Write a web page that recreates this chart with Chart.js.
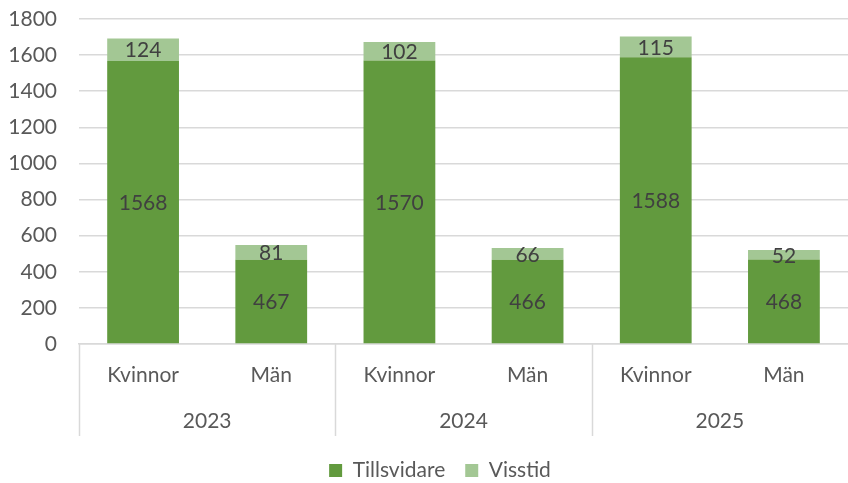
<!DOCTYPE html>
<html>
<head>
<meta charset="utf-8">
<script src="https://cdn.jsdelivr.net/npm/chart.js@4"></script>
<style>
  html, body { margin: 0; padding: 0; background: #fff; }
  #wrap { width: 848px; height: 483px; }
</style>
</head>
<body>
<div id="wrap"><canvas id="grafico"></canvas></div>
<script>
const categorias = ['Kvinnor', 'Män', 'Kvinnor', 'Män', 'Kvinnor', 'Män'];
const anios = ['2023', '2024', '2025'];
const tillsvidare = [1568, 467, 1570, 466, 1588, 468];
const visstid = [124, 81, 102, 66, 115, 52];
const yTicks = [0, 200, 400, 600, 800, 1000, 1200, 1400, 1600, 1800];

const fuente = 'Lato, "Open Sans", sans-serif';
const gris = '#595959';

// etiquetas de valor en el centro de cada segmento
const etiquetas = {
  id: 'etiquetas',
  afterDatasetsDraw(chart) {
    const ctx = chart.ctx;
    ctx.save();
    ctx.font = '21px ' + fuente;
    ctx.fillStyle = '#404040';
    ctx.textAlign = 'center';
    ctx.textBaseline = 'middle';
    chart.data.datasets.forEach((ds, i) => {
      chart.getDatasetMeta(i).data.forEach((bar, j) => {
        const p = bar.getProps(['x', 'y', 'base'], true);
        ctx.fillText(ds.data[j], p.x, (p.y + p.base) / 2 + 1);
      });
    });
    ctx.restore();
  }
};

// separadores de grupos en el eje de categorias
const separadores = {
  id: 'separadores',
  afterLayout(chart) {
    // la leyenda va un poco a la derecha, como en el original
    chart.legend.left += 12;
    chart.legend.right += 12;
  },
  afterDraw(chart) {
    const x = chart.scales.x;
    const top = chart.chartArea.bottom;
    const bottom = top + 92;
    const ctx = chart.ctx;
    ctx.save();
    ctx.strokeStyle = '#D9D9D9';
    ctx.lineWidth = 1.5;
    [-0.5, 1.5, 3.5].forEach(v => {
      const px = Math.round(x.getPixelForValue(v)) + 0.5;
      ctx.beginPath();
      ctx.moveTo(px, top);
      ctx.lineTo(px, bottom);
      ctx.stroke();
    });
    ctx.restore();
  }
};

new Chart(document.getElementById('grafico'), {
  type: 'bar',
  data: {
    labels: categorias,
    datasets: [
      { label: 'Tillsvidare', data: tillsvidare, backgroundColor: '#629A3E', barPercentage: 0.56, categoryPercentage: 1 },
      { label: 'Visstid', data: visstid, backgroundColor: '#A3C794', barPercentage: 0.56, categoryPercentage: 1 }
    ]
  },
  options: {
    responsive: true,
    maintainAspectRatio: false,
    animation: false,
    layout: { padding: { left: 8, right: 0, top: 19, bottom: -8 } },
    plugins: {
      tooltip: { enabled: false },
      legend: {
        position: 'bottom',
        labels: {
          font: { family: fuente, size: 21 },
          color: gris,
          boxWidth: 13,
          boxHeight: 13,
          padding: 20
        }
      }
    },
    scales: {
      x: {
        stacked: true,
        grid: { display: false, drawTicks: false },
        border: { display: true, color: '#D9D9D9', width: 1.5 },
        ticks: { font: { family: fuente, size: 21 }, color: gris, padding: 19 },
        afterFit(axis) { axis.height = 55; axis.paddingLeft = 0; axis.paddingRight = 0; }
      },
      x2: {
        type: 'category',
        labels: anios,
        position: 'bottom',
        grid: { display: false, drawTicks: false },
        border: { display: false },
        ticks: { font: { family: fuente, size: 21 }, color: gris, padding: 10 },
        afterFit(axis) { axis.height = 41; axis.paddingLeft = 0; axis.paddingRight = 0; }
      },
      y: {
        stacked: true,
        min: 0,
        max: 1800,
        afterBuildTicks(axis) { axis.ticks = yTicks.map(v => ({ value: v })); },
        afterFit(axis) { axis.width = 71; axis.paddingTop = 0; axis.paddingBottom = 0; },
        grid: { color: '#D9D9D9', lineWidth: 1.5, drawTicks: false },
        border: { display: false },
        ticks: { font: { family: fuente, size: 21 }, color: gris, padding: 22, callback: v => v }
      }
    }
  },
  plugins: [etiquetas, separadores]
});
</script>
</body>
</html>
